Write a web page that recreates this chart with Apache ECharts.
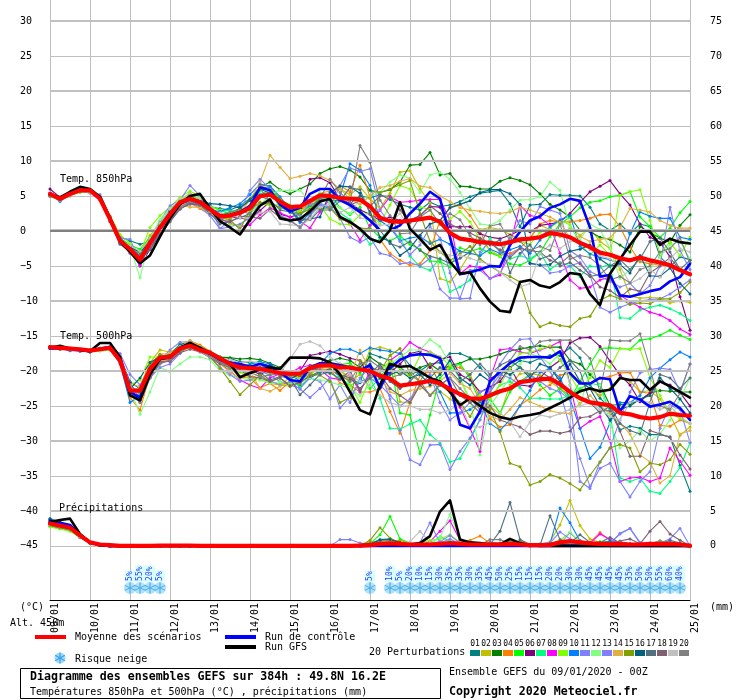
<!DOCTYPE html>
<html><head><meta charset="utf-8">
<style>html,body{margin:0;padding:0;background:#fff}#c{width:740px;height:700px}</style>
<script src="https://cdn.jsdelivr.net/npm/echarts@6/dist/echarts.min.js"></script>
</head><body><div id="c"></div>
<script>
const dayLabels=['09/01','10/01','11/01','12/01','13/01','14/01','15/01','16/01','17/01','18/01','19/01','20/01','21/01','22/01','23/01','24/01','25/01'];
const tempTicks=[30,25,20,15,10,5,0,-5,-10,-15,-20,-25,-30,-35,-40,-45];
const mmTicks=[75,70,65,60,55,50,45,40,35,30,25,20,15,10,5,0];
const memberNames=['01','02','03','04','05','06','07','08','09','10','11','12','13','14','15','16','17','18','19','20'];
const memberColors=['#008080','#c0c000','#008000','#ff8000','#00ff00','#800080','#00ff80','#ff00ff','#80ff00','#0080ff','#8080ff','#80ff80','#8080ff','#e0b040','#80a000','#006080','#507080','#806070','#c0c0c0','#808080'];

const mean850=[5.3,4.6,5.3,5.8,5.8,4.6,1.7,-1.4,-2.6,-4.1,-1.7,0.5,2.4,4.1,4.6,4.1,3.1,2.1,2.2,2.6,3.3,5.0,5.2,4.2,3.4,3.5,4.3,5.1,5.0,4.7,4.6,4.5,3.5,1.9,1.4,1.3,1.5,1.7,1.9,1.3,-0.3,-1.1,-1.3,-1.6,-1.7,-1.9,-1.6,-1.2,-1.1,-0.9,-0.3,-0.5,-0.9,-1.7,-2.3,-3.1,-3.4,-3.9,-4.2,-3.8,-4.2,-4.5,-4.9,-5.6,-6.2];
const gfs850=[5.2,4.8,5.6,6.3,6.0,4.9,1.8,-1.5,-3.0,-4.6,-3.5,-0.8,1.8,3.8,5.0,5.3,3.2,1.4,0.5,-0.5,1.6,3.6,4.5,1.8,1.5,1.7,2.8,4.2,4.6,2.0,1.3,0.3,-1.1,-1.6,0.1,4.1,0.3,-1.1,-2.7,-2.0,-4.4,-6.1,-5.9,-8.2,-10.1,-11.4,-11.6,-7.3,-7.0,-7.8,-8.1,-7.3,-6.0,-6.2,-9.0,-10.6,-6.1,-4.0,-2.0,-0.1,-0.1,-2.0,-1.1,-1.6,-1.8];
const ctrl850=[5.4,4.5,5.3,5.8,5.8,4.7,1.8,-1.3,-2.7,-4.2,-1.8,0.4,2.3,4.0,4.6,4.2,3.2,2.2,2.3,2.7,3.6,6.2,5.8,3.8,2.8,3.3,5.3,6.0,6.0,4.4,3.7,2.7,1.5,0.1,0.1,0.8,2.5,3.9,5.6,4.6,-0.9,-6.2,-5.9,-5.5,-5.0,-5.1,-2.0,-0.1,1.5,2.1,3.3,3.8,4.6,4.3,0.5,-6.5,-6.3,-9.2,-9.4,-9.0,-8.6,-8.3,-7.2,-6.6,-4.7];
const t850_01=[5.1,4.3,5.2,5.9,5.7,4.5,1.9,-0.9,-1.4,-1.9,-1.5,0.8,2.6,3.9,4.4,4.2,3.4,3.2,3.0,3.6,4.6,6.3,6.1,4.4,2.7,2.4,3.6,4.5,4.4,4.3,3.9,5.0,4.7,5.2,4.5,3.8,3.4,3.0,4.1,3.5,3.7,4.2,4.9,5.4,5.6,5.8,3.9,0.6,3.7,3.8,5.2,5.1,5.1,5.0,3.4,1.0,0.1,1.0,-0.4,1.0,0.6,-3.7,-5.1,-3.7,-4.1];
const t850_02=[5.0,4.4,5.1,5.6,5.6,4.7,1.5,-1.5,-2.4,-3.3,-0.6,1.0,2.8,4.3,5.4,4.4,3.2,2.4,2.6,3.0,3.0,4.8,5.3,3.8,3.1,2.8,3.8,5.4,5.7,6.0,5.2,6.3,4.6,3.2,5.4,8.4,8.6,6.0,4.0,-6.8,-7.3,-5.5,-3.2,0.2,0.5,0.2,-0.5,-1.2,-1.0,0.8,0.2,-0.8,0.4,-0.6,0.3,-1.5,-2.5,-5.5,-9.3,-9.6,-9.5,-9.6,-10.3,-10.0,-10.2];
const t850_03=[5.2,4.7,5.3,5.7,5.9,4.8,1.6,-1.2,-2.3,-3.6,-1.9,0.4,2.3,3.8,4.4,3.8,2.7,2.4,2.6,3.2,4.4,6.2,7.0,5.9,5.3,6.0,6.7,8.2,8.9,9.2,8.7,7.7,5.8,5.5,5.9,7.0,9.4,9.5,11.2,8.0,8.2,6.4,6.3,6.0,6.0,7.1,7.6,7.2,6.6,5.3,3.8,3.0,2.0,0.1,-0.1,-0.9,-1.2,-2.0,-3.0,0.6,-0.2,-1.0,-1.6,0.8,2.3];
const t850_04=[5.1,4.5,5.2,5.8,5.7,4.4,1.5,-1.6,-3.2,-4.4,-2.2,0.1,2.0,3.6,4.0,3.2,2.3,1.8,2.0,2.8,3.4,6.5,6.4,4.6,3.2,3.0,3.9,4.8,4.6,6.5,5.6,9.4,4.8,-1.2,-3.2,-4.2,-4.9,-4.7,-2.8,1.5,3.4,3.8,2.2,0.0,-3.0,-3.5,-3.2,-2.5,-1.0,1.0,1.5,1.3,1.3,1.5,1.8,2.3,2.4,0.6,-2.3,-4.4,-4.7,-4.9,-5.0,-5.4,-6.0];
const t850_05=[5.0,4.6,5.4,5.9,5.7,4.9,2.0,-1.0,-2.0,-2.6,-0.9,1.2,3.0,4.4,5.0,4.6,3.6,3.0,2.4,3.1,3.4,5.8,6.1,4.5,3.7,2.3,3.3,4.9,5.2,3.3,2.3,3.4,0.4,-0.9,-1.4,-0.7,-1.9,-2.6,-4.3,-4.4,-5.1,-2.4,-2.9,-2.5,-3.1,-3.7,-4.7,-4.9,-4.2,-3.1,-0.8,1.0,2.0,3.3,4.1,4.3,4.9,5.1,5.6,2.0,0.6,-0.9,0.4,2.6,4.2];
const t850_06=[6.0,4.8,5.4,5.9,5.6,4.5,1.6,-1.6,-2.8,-5.0,-2.6,0.0,2.2,3.8,4.3,3.9,3.2,2.0,2.0,1.9,1.5,2.9,4.2,2.4,2.0,2.4,7.4,7.6,6.9,4.5,4.0,3.0,2.4,1.5,2.0,1.5,1.5,2.2,3.5,3.4,0.6,0.6,0.6,-0.4,-0.9,-1.1,-0.6,0.1,-0.1,0.8,1.0,1.3,2.5,4.1,5.6,6.4,7.2,5.3,3.7,1.0,-0.9,-1.6,-3.7,-9.4,-14.2];
const t850_07=[5.1,4.5,5.2,5.8,5.8,4.6,1.8,-1.3,-2.2,-3.8,-1.2,0.9,2.7,4.2,4.8,4.2,3.5,2.9,2.9,2.8,3.7,5.3,5.7,3.3,2.9,2.2,4.0,5.3,3.9,2.6,1.6,0.1,-1.9,-1.2,0.3,-1.0,-3.6,-5.1,-5.6,-3.9,-8.7,-8.0,-7.0,-3.5,-1.0,-3.0,-4.0,-3.5,-4.0,-3.0,-5.5,-4.5,-5.0,-6.5,-5.0,-5.2,-4.8,-12.4,-12.5,-11.3,-10.9,-10.6,-11.1,-11.8,-12.8];
const t850_08=[5.2,4.5,5.2,5.7,5.7,4.5,1.7,-1.8,-3.0,-4.9,-2.2,0.3,2.4,4.0,4.7,4.3,3.1,1.8,1.1,0.6,0.9,2.3,3.3,2.6,2.0,1.4,0.4,2.7,4.6,2.0,1.0,-1.3,0.8,3.0,4.9,4.1,4.2,4.4,4.5,4.5,1.5,-6.1,-5.0,-5.2,-6.8,-6.3,-2.0,3.7,2.2,1.9,0.8,-3.2,-7.0,-8.2,-8.0,-7.0,-6.6,-9.2,-10.1,-10.9,-11.6,-12.0,-12.8,-14.0,-14.8];
const t850_09=[5.0,4.3,5.1,5.5,5.5,4.7,2.2,-0.5,-1.8,-3.2,0.5,2.2,3.4,4.8,5.7,4.9,3.5,3.0,1.0,0.7,2.4,4.0,3.6,3.8,3.1,3.0,3.2,3.6,1.7,1.0,0.9,2.3,2.5,1.0,3.7,6.5,6.0,3.5,3.0,0.9,1.7,2.8,1.3,-1.3,-2.7,-3.6,-0.8,-1.5,-1.9,-0.2,0.4,1.5,0.9,-1.8,-3.4,-2.0,-3.5,5.1,5.6,5.9,1.5,-3.2,-1.6,-3.5,-0.9];
const t850_10=[5.3,4.2,5.2,5.8,5.7,4.6,1.9,-1.0,-2.4,-3.4,-1.1,1.0,2.9,4.0,4.3,3.6,2.9,2.8,3.3,3.9,5.2,6.7,6.4,4.9,3.0,1.2,2.5,3.7,3.2,5.0,9.6,8.7,6.5,1.5,0.5,-1.4,-1.0,-0.8,-1.8,-1.2,-1.9,-2.9,-3.2,-3.5,-2.6,-3.2,-2.7,-2.2,-3.2,-1.3,0.6,1.6,2.2,-2.2,-3.3,-3.8,-4.1,-4.7,-0.4,2.7,2.1,1.8,1.8,-0.9,-1.2];
const t850_11=[5.0,4.4,5.0,5.7,5.4,5.2,2.1,-1.0,-1.2,-4.3,-1.3,1.5,3.6,4.4,6.5,5.0,3.6,0.3,1.6,2.8,5.8,7.4,6.0,3.7,2.6,2.3,3.8,4.0,3.3,6.5,9.0,8.5,8.9,3.0,1.0,-1.5,-3.4,-2.0,0.6,-1.0,-6.0,-9.7,-9.6,-3.0,-1.5,-3.0,-1.0,1.5,1.0,3.5,3.0,2.5,-2.8,-3.8,-5.8,-6.5,-7.2,-8.0,-7.5,-9.0,-7.8,-5.0,3.4,-2.8,-5.5];
const t850_12=[5.2,4.7,5.4,5.6,5.5,4.5,1.4,-1.4,-2.2,-6.7,-1.0,1.6,3.2,4.5,5.2,4.7,3.3,2.2,2.6,2.4,3.0,3.7,5.2,5.8,5.8,5.8,4.2,5.5,4.0,3.3,2.5,4.5,5.0,5.5,7.0,8.0,7.5,5.5,8.0,8.4,7.4,5.5,3.2,1.0,0.8,1.5,3.0,4.4,4.5,4.9,7.0,5.8,0.6,-1.3,1.0,0.2,-2.5,-6.8,-5.5,-4.0,-5.5,-3.7,-2.0,-1.5,-4.0];
const t850_13=[5.4,4.8,5.3,5.9,5.9,4.6,1.6,-1.2,-3.2,-4.2,-2.6,-0.2,1.7,3.4,4.1,3.4,2.2,0.3,0.6,1.0,1.9,4.0,3.9,2.2,1.6,0.4,2.2,3.7,3.5,1.8,-0.9,-1.6,-0.9,-3.2,-3.5,-4.7,-4.5,-5.0,-3.9,-8.3,-9.6,-9.6,-5.6,-5.6,-6.8,-6.0,-3.5,-2.5,-4.7,-4.8,-6.0,-5.8,-5.0,-4.5,-6.3,-10.9,-11.6,-10.9,-10.4,-10.0,-9.8,-9.7,-9.0,-8.0,-7.0];
const t850_14=[5.0,4.4,5.0,5.6,5.6,4.6,1.4,-1.5,-2.7,-3.9,-2.0,0.2,2.1,3.7,3.4,3.4,2.6,2.0,1.8,2.6,4.4,7.0,10.8,9.1,7.5,7.8,8.2,7.9,7.2,6.0,4.6,3.8,5.0,6.2,6.5,7.1,7.5,6.4,6.2,5.0,4.2,3.3,3.0,2.8,2.6,2.5,2.7,3.4,3.0,2.5,2.0,1.2,-1.0,-0.8,-1.5,-1.2,-1.0,0.5,3.2,3.0,2.7,1.5,0.8,0.4,0.4];
const t850_15=[5.1,4.6,5.4,5.7,5.8,4.7,1.8,-1.2,-2.4,-3.0,-1.4,0.9,2.5,4.0,5.2,4.0,2.9,1.9,1.6,0.2,3.0,4.1,3.9,3.4,2.9,2.5,3.1,3.2,3.3,1.7,1.2,0.4,0.3,5.5,6.0,6.6,7.2,2.5,-1.5,-3.0,-4.2,-3.3,-2.2,-4.0,-5.0,-5.9,-6.5,-7.3,-11.7,-13.7,-13.1,-13.5,-13.7,-12.5,-12.2,-9.9,-9.2,-9.7,-10.5,-10.3,-10.4,-9.7,-9.7,-8.8,-7.3];
const t850_16=[5.2,4.4,5.3,5.7,5.7,4.8,1.7,-1.7,-2.3,-3.0,-1.6,0.6,2.8,3.9,4.6,4.4,3.9,3.8,3.6,3.3,4.4,6.0,5.4,3.9,3.0,1.5,1.7,2.0,5.5,6.4,6.3,5.4,2.7,-0.9,-1.5,-3.5,-2.5,-0.6,1.0,1.5,3.3,3.8,4.3,5.5,5.9,5.9,5.3,3.8,-4.6,-4.9,-4.8,-3.6,-2.9,-2.6,-2.0,-4.0,-5.0,-4.8,-6.0,-3.5,-6.4,-6.5,-5.3,-7.5,-9.0];
const t850_17=[5.0,4.5,5.1,5.6,5.8,4.7,1.3,-1.9,-2.9,-4.0,-2.7,-0.6,1.3,3.1,4.0,3.7,2.5,1.0,1.4,1.9,2.5,5.0,4.4,3.0,2.7,1.8,1.6,3.0,3.0,4.3,6.2,5.9,2.5,0.1,-1.8,-2.3,-1.5,-2.8,-3.6,-4.0,-4.6,-3.9,-3.0,-1.1,-2.0,-1.3,-6.0,-3.2,-2.0,-4.0,-3.5,-5.0,-4.5,-5.6,-6.5,-6.2,-5.0,-4.1,-5.5,-4.0,-1.5,-1.0,-3.0,-5.5,-4.2];
const t850_18=[5.1,4.7,5.5,5.8,5.6,4.5,1.4,-1.1,-2.5,-3.5,-2.4,-0.4,1.5,3.2,3.8,3.7,2.8,1.6,1.3,2.1,2.0,1.8,3.1,1.9,1.6,1.6,3.1,4.6,5.0,4.6,3.7,4.3,3.5,5.0,5.0,3.0,1.2,2.2,3.6,2.5,1.0,0.3,-0.3,-1.0,-1.8,-2.7,-3.8,-2.5,-2.8,-3.0,-4.2,-4.7,-3.5,-4.7,-6.3,-8.0,-8.5,-9.5,-8.3,-8.6,-6.0,-5.0,-3.8,-5.6,-6.2];
const t850_19=[5.2,4.4,5.1,5.7,5.6,4.5,1.5,-1.3,-2.1,-2.9,-1.1,1.1,3.1,4.6,5.3,4.5,2.8,2.6,2.2,1.9,1.8,2.6,2.8,1.0,0.9,0.7,1.7,3.4,3.9,2.6,3.4,1.9,1.5,0.8,1.0,2.5,0.5,-1.5,-2.5,-3.0,-3.5,-3.5,-3.9,-4.4,-4.8,-5.9,-7.0,-8.0,-7.5,-3.2,-2.0,-2.5,-1.5,-1.5,-2.7,-3.5,-4.0,-5.0,-7.5,-6.8,-5.5,-6.6,-4.0,-2.5,-3.0];
const t850_20=[5.0,4.5,5.2,5.7,5.8,4.7,2.0,-0.9,-2.6,-3.7,-1.8,-0.1,2.5,3.4,4.2,3.9,3.0,1.9,2.7,3.0,2.4,6.0,4.3,2.1,1.4,0.6,2.2,4.6,7.4,5.5,4.0,12.2,9.8,4.4,2.2,-0.4,-0.3,2.0,3.0,1.0,2.5,1.6,-0.7,-2.0,0.7,1.0,-1.4,-1.5,-2.8,-2.2,-2.8,1.0,-4.0,-3.5,-3.8,-5.0,-7.0,-6.5,-7.4,-5.5,-5.0,-3.0,-2.5,-1.0,-4.5];

const mean500=[-16.6,-16.7,-16.8,-16.9,-17.1,-16.9,-16.7,-18.5,-22.8,-22.8,-19.7,-18.1,-18.0,-16.8,-16.4,-17.0,-17.4,-18.2,-19.0,-19.5,-19.6,-19.7,-20.0,-20.3,-20.4,-20.4,-19.6,-19.2,-19.2,-19.5,-19.5,-19.8,-20.0,-20.7,-21.1,-22.1,-21.9,-21.7,-21.4,-21.8,-22.6,-23.3,-23.9,-24.0,-23.5,-22.9,-22.5,-21.6,-21.4,-21.2,-21.1,-21.9,-23.0,-23.9,-24.5,-24.7,-24.9,-26.0,-26.2,-26.6,-26.8,-26.6,-26.1,-26.3,-26.4];
const gfs500=[-16.7,-16.4,-16.8,-17.0,-17.2,-16.0,-16.0,-18.0,-23.5,-24.2,-20.5,-18.3,-18.0,-16.7,-16.0,-16.7,-17.5,-18.3,-19.0,-20.9,-20.3,-19.8,-19.5,-19.7,-18.1,-18.1,-18.1,-18.2,-18.8,-20.5,-23.0,-25.6,-26.2,-22.0,-19.0,-19.4,-19.3,-20.1,-21.0,-21.5,-23.0,-24.9,-23.9,-25.0,-26.0,-26.6,-26.9,-26.5,-26.3,-26.0,-25.3,-24.6,-23.8,-22.9,-22.5,-22.9,-22.7,-21.0,-21.3,-21.3,-22.7,-21.5,-22.2,-23.0,-23.8];
const ctrl500=[-16.8,-16.8,-16.8,-17.0,-17.2,-16.8,-16.6,-18.6,-23.0,-23.8,-20.0,-18.3,-18.1,-16.7,-16.2,-16.9,-17.5,-18.4,-18.8,-19.0,-19.4,-19.0,-19.4,-20.2,-21.3,-21.5,-19.5,-18.9,-18.9,-19.2,-19.6,-19.9,-19.2,-22.5,-19.6,-18.4,-17.8,-17.6,-17.7,-18.2,-22.0,-27.7,-28.2,-25.8,-21.5,-20.1,-18.9,-18.1,-18.0,-18.0,-18.1,-17.2,-20.3,-21.8,-21.8,-21.0,-21.2,-25.8,-23.6,-24.1,-25.1,-24.8,-24.4,-25.3,-27.0];
const t500_01=[-16.6,-16.8,-17.0,-17.0,-17.2,-16.8,-16.6,-18.0,-21.5,-22.6,-19.9,-18.3,-18.0,-16.4,-16.0,-16.6,-17.3,-18.0,-18.2,-18.7,-18.8,-18.9,-19.3,-19.9,-21.0,-22.2,-21.0,-20.2,-19.7,-20.8,-21.3,-21.7,-17.5,-18.0,-18.5,-19.5,-20.5,-20.0,-19.0,-18.8,-17.5,-17.5,-18.1,-19.5,-21.0,-20.5,-19.5,-18.5,-18.8,-18.2,-17.8,-17.8,-16.7,-18.1,-22.0,-23.9,-25.3,-28.4,-27.9,-28.2,-29.1,-29.1,-29.4,-33.5,-37.2];
const t500_02=[-16.8,-16.9,-16.7,-17.1,-17.0,-17.0,-16.8,-18.4,-22.0,-22.2,-18.8,-17.0,-17.3,-16.7,-16.3,-16.8,-17.6,-18.6,-19.7,-19.3,-21.0,-20.5,-21.8,-22.0,-22.2,-21.0,-20.0,-19.4,-20.4,-19.8,-21.5,-20.5,-17.0,-16.6,-17.0,-24.4,-24.6,-22.0,-23.4,-22.9,-24.0,-25.0,-24.0,-23.5,-25.0,-26.2,-22.0,-20.4,-20.4,-20.6,-21.5,-22.5,-23.5,-22.8,-22.5,-23.5,-22.5,-21.0,-21.5,-23.0,-22.8,-24.0,-26.3,-29.2,-28.0];
const t500_03=[-16.7,-16.8,-16.9,-16.9,-17.1,-16.8,-16.5,-18.2,-22.5,-23.5,-20.0,-18.0,-17.6,-16.2,-15.9,-16.5,-17.2,-18.0,-18.1,-18.3,-18.2,-18.4,-18.9,-19.5,-20.6,-20.8,-20.0,-19.2,-18.5,-18.2,-18.5,-19.5,-18.0,-19.0,-19.5,-20.5,-20.0,-19.5,-19.0,-20.0,-19.2,-18.9,-18.3,-18.3,-18.0,-17.6,-17.1,-16.9,-16.6,-16.4,-16.6,-16.6,-18.5,-19.0,-20.5,-22.0,-24.9,-24.8,-24.7,-24.1,-23.2,-22.8,-22.9,-23.0,-23.0];
const t500_04=[-16.7,-16.6,-16.8,-17.2,-17.2,-16.9,-17.0,-18.8,-23.8,-25.6,-20.5,-18.5,-18.4,-16.8,-15.7,-16.3,-17.2,-18.3,-19.5,-20.9,-21.0,-22.4,-21.8,-22.8,-21.5,-21.8,-20.5,-19.5,-19.6,-21.8,-22.0,-23.0,-23.0,-22.5,-25.8,-28.9,-24.5,-20.6,-20.1,-20.3,-19.3,-19.5,-20.5,-23.9,-26.8,-28.0,-27.7,-24.9,-23.9,-22.7,-22.0,-20.6,-20.3,-21.5,-21.8,-21.0,-20.8,-20.3,-20.2,-23.0,-23.2,-27.8,-27.9,-27.0,-27.5];
const t500_05=[-16.6,-16.8,-16.8,-17.0,-17.3,-17.0,-16.7,-18.3,-22.4,-23.2,-19.5,-17.8,-18.3,-16.6,-15.9,-16.6,-17.5,-18.0,-19.0,-19.4,-19.0,-18.6,-19.8,-20.4,-20.8,-20.3,-19.2,-19.0,-18.8,-19.1,-18.9,-20.3,-22.5,-21.0,-18.7,-26.0,-26.3,-31.8,-26.3,-21.0,-19.6,-19.0,-21.0,-24.5,-24.0,-26.0,-23.0,-21.5,-20.5,-22.0,-23.5,-22.5,-24.0,-21.5,-19.0,-16.8,-16.7,-16.8,-16.9,-15.6,-15.4,-14.9,-14.2,-14.9,-15.5];
const t500_06=[-16.5,-16.7,-17.0,-17.1,-17.0,-16.9,-16.8,-18.0,-21.8,-23.8,-20.0,-18.2,-18.2,-17.0,-16.4,-17.1,-17.8,-18.6,-19.0,-19.2,-19.8,-20.5,-19.8,-20.6,-20.2,-20.0,-17.8,-17.5,-17.2,-17.6,-18.2,-18.5,-21.0,-19.5,-20.3,-19.0,-17.5,-17.2,-19.5,-18.3,-18.0,-20.5,-21.3,-23.0,-22.3,-21.5,-19.5,-22.0,-22.2,-21.0,-19.5,-18.5,-16.0,-15.3,-15.2,-16.5,-18.6,-20.6,-22.0,-24.4,-23.1,-21.5,-22.0,-23.1,-25.0];
const t500_07=[-16.7,-16.7,-16.8,-17.0,-17.1,-16.8,-16.7,-18.6,-22.6,-22.6,-19.4,-18.0,-17.8,-16.5,-16.2,-16.8,-17.5,-18.5,-19.5,-19.7,-19.3,-19.7,-20.4,-20.5,-21.0,-22.3,-20.8,-20.0,-20.3,-21.0,-22.0,-21.5,-21.0,-23.9,-28.2,-28.3,-27.6,-27.0,-29.1,-30.3,-33.0,-32.5,-29.9,-26.9,-24.0,-22.0,-21.5,-22.4,-23.9,-23.9,-24.0,-24.0,-23.5,-22.5,-21.8,-22.0,-26.0,-35.3,-35.8,-35.3,-37.2,-37.5,-35.8,-33.8,-30.3];
const t500_08=[-16.7,-16.8,-17.0,-17.2,-17.2,-16.9,-16.6,-18.4,-23.2,-24.2,-20.6,-18.8,-18.6,-17.4,-16.3,-16.8,-17.8,-18.9,-20.0,-21.3,-22.0,-22.5,-21.0,-20.4,-20.3,-19.5,-19.2,-19.8,-21.0,-21.2,-20.5,-23.0,-20.0,-22.0,-18.5,-17.5,-15.9,-16.8,-17.3,-18.0,-22.0,-25.2,-28.2,-31.5,-21.1,-17.0,-16.8,-17.3,-17.5,-17.0,-16.5,-15.8,-22.0,-28.2,-27.2,-26.5,-30.0,-35.8,-35.3,-35.2,-35.8,-35.3,-31.0,-32.9,-34.9];
const t500_09=[-16.6,-16.9,-16.9,-17.0,-17.2,-16.7,-16.6,-18.2,-22.0,-21.3,-18.0,-18.0,-18.4,-17.2,-16.3,-16.9,-17.5,-18.8,-19.8,-20.2,-21.0,-21.3,-21.6,-21.8,-22.0,-20.5,-20.8,-19.0,-19.6,-19.5,-22.0,-24.5,-21.0,-20.0,-18.6,-19.7,-20.8,-17.8,-17.3,-18.0,-19.2,-21.0,-24.5,-23.5,-24.0,-22.0,-19.6,-17.5,-17.3,-16.9,-16.4,-18.5,-20.6,-23.0,-21.0,-18.5,-19.5,-16.8,-16.9,-16.8,-21.0,-23.5,-26.0,-26.8,-27.5];
const t500_10=[-16.8,-16.8,-17.1,-17.1,-17.0,-16.8,-16.7,-19.0,-24.5,-23.5,-19.5,-17.8,-18.2,-16.4,-15.9,-16.6,-17.3,-18.5,-19.2,-19.6,-19.0,-18.7,-19.0,-19.9,-20.5,-21.4,-20.2,-19.0,-17.5,-16.9,-16.9,-17.5,-16.7,-17.0,-17.2,-17.5,-19.2,-20.5,-20.8,-23.0,-26.0,-26.0,-25.5,-24.5,-27.5,-28.5,-27.0,-25.0,-22.8,-20.2,-19.7,-21.0,-24.0,-28.2,-32.5,-30.9,-27.4,-24.5,-24.5,-23.5,-21.0,-19.6,-18.4,-17.3,-18.0];
const t500_11=[-16.6,-16.6,-17.0,-16.9,-17.2,-17.0,-16.8,-17.5,-20.5,-22.0,-19.6,-18.5,-17.0,-15.9,-15.8,-16.6,-17.4,-18.5,-19.2,-19.9,-20.3,-20.0,-20.6,-21.5,-22.0,-22.5,-21.0,-21.5,-24.0,-22.0,-24.5,-21.0,-19.5,-20.0,-24.0,-28.5,-32.7,-33.4,-30.6,-30.5,-34.1,-31.5,-29.6,-27.0,-23.0,-19.0,-17.0,-15.5,-15.4,-18.0,-20.0,-23.0,-28.0,-32.5,-36.5,-33.9,-33.2,-35.8,-38.0,-35.8,-34.4,-28.2,-24.9,-25.5,-30.2];
const t500_12=[-16.7,-16.8,-16.9,-17.0,-17.1,-17.2,-17.0,-18.6,-22.5,-26.2,-23.0,-19.5,-20.1,-19.0,-18.0,-18.0,-18.4,-20.0,-20.6,-21.0,-21.3,-21.2,-21.8,-21.5,-21.8,-21.3,-21.0,-21.3,-21.6,-22.0,-22.5,-23.5,-22.0,-20.0,-19.0,-18.0,-17.0,-17.0,-15.5,-16.5,-19.0,-21.0,-24.0,-32.0,-25.0,-23.0,-21.0,-19.0,-17.5,-18.0,-19.0,-17.5,-22.0,-25.0,-20.0,-22.0,-27.5,-31.0,-30.0,-28.5,-30.0,-29.0,-27.0,-24.0,-21.0];
const t500_13=[-16.6,-16.7,-17.0,-17.1,-17.2,-16.8,-16.5,-17.6,-22.0,-23.2,-21.0,-19.5,-19.0,-17.5,-16.2,-17.0,-18.0,-19.5,-20.5,-21.5,-21.3,-20.8,-21.4,-22.0,-21.5,-22.6,-23.8,-22.5,-21.0,-25.3,-23.7,-21.5,-21.0,-22.0,-23.5,-25.0,-24.0,-22.0,-20.5,-24.5,-27.0,-26.0,-24.5,-23.0,-22.5,-20.5,-21.0,-22.0,-20.5,-21.5,-22.5,-23.0,-24.1,-35.8,-36.8,-33.0,-31.0,-27.0,-23.0,-20.3,-19.8,-19.6,-19.8,-23.0,-19.0];
const t500_14=[-16.7,-16.8,-16.9,-17.1,-17.2,-16.9,-16.9,-18.8,-23.0,-22.5,-19.0,-17.6,-17.5,-16.6,-15.6,-16.5,-17.6,-19.0,-20.2,-21.0,-20.0,-22.5,-22.9,-22.2,-20.8,-21.0,-20.3,-19.6,-20.3,-20.0,-20.8,-17.0,-20.0,-21.0,-23.0,-23.5,-22.8,-22.5,-22.2,-21.5,-20.3,-21.8,-22.5,-24.8,-26.5,-27.0,-25.5,-23.8,-24.4,-25.0,-25.7,-26.0,-26.1,-24.6,-23.5,-25.0,-26.0,-27.5,-29.0,-32.0,-33.0,-36.0,-35.0,-29.0,-28.5];
const t500_15=[-16.6,-16.7,-16.8,-17.0,-17.1,-16.8,-16.7,-18.0,-22.4,-23.0,-19.2,-17.6,-18.2,-17.2,-16.6,-17.2,-18.0,-19.6,-21.5,-23.4,-22.0,-20.6,-21.5,-21.0,-22.0,-21.8,-20.5,-20.6,-21.5,-24.5,-23.8,-18.5,-19.5,-20.0,-17.8,-16.8,-20.5,-21.5,-19.0,-22.0,-23.0,-24.5,-26.5,-24.0,-25.5,-28.7,-33.2,-33.7,-36.3,-35.8,-34.8,-35.3,-36.1,-37.0,-34.9,-33.0,-31.0,-30.5,-31.0,-34.4,-33.2,-33.4,-32.7,-30.5,-31.9];
const t500_16=[-16.7,-16.9,-16.9,-17.0,-17.3,-16.9,-16.8,-18.3,-22.6,-21.0,-18.8,-18.0,-17.8,-16.6,-16.1,-16.7,-17.7,-18.4,-18.7,-19.2,-19.3,-19.5,-19.2,-20.1,-21.2,-20.4,-19.6,-20.0,-20.3,-19.0,-19.4,-20.0,-19.0,-21.0,-20.5,-20.0,-21.0,-20.5,-22.0,-20.5,-18.5,-21.0,-22.0,-20.5,-21.5,-20.0,-20.5,-19.5,-21.0,-19.0,-19.5,-21.5,-19.0,-21.5,-22.5,-25.0,-27.0,-25.5,-25.0,-24.0,-23.5,-21.0,-22.5,-24.0,-26.0];
const t500_17=[-16.6,-16.8,-17.0,-17.0,-17.1,-16.9,-16.7,-18.5,-23.4,-24.2,-20.8,-18.8,-18.5,-17.0,-16.5,-17.0,-17.8,-18.8,-19.3,-19.4,-19.8,-20.2,-21.3,-20.8,-21.0,-23.4,-22.0,-20.5,-20.2,-21.2,-20.0,-22.8,-20.5,-19.0,-21.5,-22.5,-21.5,-20.0,-21.0,-19.5,-20.0,-21.5,-20.5,-19.0,-20.5,-19.2,-18.5,-19.5,-20.5,-20.0,-21.0,-19.5,-18.5,-20.0,-24.5,-26.0,-25.0,-27.5,-28.5,-29.0,-24.5,-20.5,-21.0,-22.5,-21.0];
const t500_18=[-16.8,-16.7,-17.0,-17.0,-17.2,-16.9,-16.6,-18.4,-22.8,-24.5,-20.9,-18.7,-18.6,-17.4,-16.9,-17.3,-18.1,-19.0,-19.5,-19.9,-20.8,-21.0,-21.5,-21.0,-22.2,-21.6,-20.8,-20.0,-19.8,-20.5,-21.0,-22.5,-21.0,-20.5,-22.5,-23.5,-24.5,-22.0,-23.5,-22.0,-21.0,-23.5,-24.5,-26.0,-25.0,-27.0,-27.5,-28.0,-29.1,-28.6,-28.6,-28.9,-28.6,-26.7,-26.5,-25.7,-25.7,-28.6,-32.2,-32.2,-28.5,-29.0,-29.5,-32.0,-34.0];
const t500_19=[-16.7,-16.7,-16.9,-17.0,-17.0,-16.7,-16.6,-18.2,-22.2,-23.6,-20.2,-18.4,-18.0,-16.5,-16.4,-17.2,-18.0,-18.2,-18.4,-18.9,-18.6,-18.9,-19.6,-20.3,-18.3,-16.2,-15.8,-16.4,-18.0,-19.0,-20.5,-21.5,-22.0,-23.5,-24.5,-25.0,-25.0,-25.5,-25.5,-26.0,-25.6,-24.5,-28.0,-28.0,-27.3,-26.0,-27.3,-29.4,-27.3,-26.3,-26.6,-26.1,-25.5,-25.0,-24.5,-25.5,-26.5,-27.0,-24.5,-24.2,-24.5,-25.5,-25.0,-26.5,-27.5];
const t500_20=[-16.6,-16.9,-16.8,-17.1,-17.2,-16.8,-16.6,-18.6,-23.3,-24.5,-21.0,-19.0,-18.4,-17.0,-16.6,-17.2,-17.9,-18.6,-19.6,-20.0,-20.2,-20.8,-20.6,-20.4,-20.8,-20.0,-20.0,-19.5,-18.8,-20.6,-21.5,-19.0,-18.5,-19.5,-21.0,-20.5,-20.0,-21.5,-23.5,-22.0,-21.0,-22.5,-24.0,-25.5,-23.0,-21.0,-18.5,-16.5,-17.0,-15.8,-15.6,-15.6,-15.6,-16.8,-18.2,-23.0,-15.6,-15.7,-15.7,-14.7,-19.6,-25.0,-25.5,-23.2,-19.0];

const meanPr=[3.2,2.9,2.6,1.5,0.5,0.2,0.1,0,0,0,0,0.05,0.05,0.05,0.05,0,0,0,0,0,0,0,0,0,0,0,0,0,0,0,0,0.05,0.1,0.3,0.35,0.3,0.2,0.2,0.2,0.3,0.4,0.3,0.2,0.2,0.2,0.2,0.3,0.2,0.1,0.1,0.15,0.5,0.7,0.5,0.35,0.3,0.25,0.25,0.2,0.2,0.3,0.25,0.3,0.2,0.05];
const ctrlPr=[3.6,3.3,3.0,1.6,0.5,0.1,0,0,0,0,0,0,0,0,0,0,0,0,0,0,0,0,0,0,0,0,0,0,0,0,0,0,0,0,0,0,0,0,0,0,0,0,0,0,0,0,0,0,0,0,0,0,0,0,0,0,0,0,0,0,0,0,0,0,0];
const gfsPr=[3.4,3.7,3.9,1.7,0.5,0.1,0,0,0,0,0,0,0,0,0,0,0,0,0,0,0,0,0,0,0,0,0,0,0,0.05,0,0.1,0.2,0.3,0.2,0.2,0.2,0.4,1.4,4.9,6.5,0.9,0.5,0.4,0.2,0.2,1.0,0.4,0.1,0,0,0,0,0,0,0,0,0,0,0,0,0,0,0,0];
const pr01=[3.9,3.4,2.9,1.5,0.5,0.1,0,0,0,0,0,0,0,0,0,0,0,0,0,0,0,0,0,0,0,0,0,0,0,0,0,0,0.3,0.9,1.0,0.4,0.2,0.1,0.1,0.2,0.3,0.2,0.1,0.2,0.1,0.1,0.2,0.1,0,0.2,0.1,0.2,0.1,0.3,0.2,0.1,0.2,0.3,0.2,0.1,0.1,0.2,0.1,0.1,0];
const pr02=[3.0,2.7,2.3,1.3,0.4,0.1,0,0,0,0,0,0,0,0,0,0,0,0,0,0,0,0,0,0,0,0,0,0,0,0,0,0,0.1,0.3,0.2,0.1,0.1,0.3,0.6,0.3,0.2,0.1,0.2,0.3,0.2,0.1,0.4,0.3,0.1,0.2,0.6,3.0,6.5,2.9,1.0,0.5,0.3,0.2,0.1,0.2,0.1,0.2,0.3,0.1,0];
const pr03=[3.6,3.0,2.6,1.5,0.5,0.2,0,0,0,0,0,0,0,0,0,0,0,0,0,0,0,0,0,0,0,0,0,0,0,0,0,0.1,0.2,0.4,0.6,0.3,0.1,0.1,0.2,0.2,0.4,0.2,0.1,0.2,0.2,0.3,0.5,0.4,0.2,0.1,0.1,0.2,0.3,0.2,0.1,0.2,0.4,0.3,0.2,0.2,0.3,0.6,0.4,0.2,0];
const pr04=[3.1,2.8,2.5,1.4,0.4,0.1,0,0,0,0,0,0,0,0,0,0,0,0,0,0,0,0,0,0,0,0,0,0,0,0,0,0.2,0.6,0.5,0.6,0.8,0.3,0.2,0.3,0.4,0.5,0.6,0.8,1.4,0.4,0.2,0.2,0.3,0.1,0.1,0.1,0.2,0.3,0.2,0.5,1.9,0.8,0.2,0.1,0.1,0.1,0.2,0.2,0.1,0];
const pr05=[2.8,2.5,2.2,1.2,0.4,0.1,0,0,0,0,0,0,0,0,0,0,0,0,0,0,0,0,0,0,0,0,0,0,0,0.1,0.1,0.2,0.3,1.6,4.2,1.0,0.4,0.2,0.1,0.4,0.5,0.3,0.2,0.1,0.1,0.3,0.2,0.2,0.2,0.1,0.1,0.3,0.4,0.3,0.2,0.6,0.3,0.2,0.1,0.1,0.2,0.4,0.2,0.1,0];
const pr06=[3.3,3.0,2.7,1.6,0.5,0.1,0,0,0,0,0,0,0,0,0,0,0,0,0,0,0,0,0,0,0,0,0,0,0,0,0,0,0.1,0.2,0.3,0.2,0.2,0.1,0.2,0.3,0.4,0.2,0.1,0.2,0.1,0.2,0.6,0.5,0.2,0.1,0.1,0.2,0.4,0.6,0.3,0.4,0.3,0.6,0.3,0.1,0.2,0.3,0.2,0.1,0];
const pr07=[3.1,2.6,2.3,1.3,0.5,0.1,0,0,0,0,0,0,0,0,0,0,0,0,0,0,0,0,0,0,0,0,0,0,0,0,0,0,0.2,0.3,0.5,0.2,0.1,0.2,0.3,1.3,0.7,0.3,0.1,0.1,0.2,0.1,0.2,0.3,0.1,0.1,0.2,0.3,0.5,0.2,0.2,0.3,0.7,0.2,0.2,0.1,0.2,0.2,0.1,0.1,0];
const pr08=[3.4,2.9,2.5,1.4,0.5,0.2,0,0,0,0,0,0,0,0,0,0,0,0,0,0,0,0,0,0,0,0,0,0,0,0,0,0.1,0.1,0.2,0.2,0.3,0.1,0.1,0.6,2.1,3.6,0.8,0.2,0.2,0.1,0.1,0.2,0.1,0.1,0.2,0.2,0.3,0.5,0.3,0.4,1.7,0.9,0.3,0.3,0.2,0.4,0.3,0.2,0.1,0];
const pr09=[2.7,2.4,2.1,1.2,0.4,0.1,0,0,0,0,0,0,0,0,0,0,0,0,0,0,0,0,0,0,0,0,0,0,0,0,0,0,0.1,0.4,0.3,0.4,0.2,0.3,0.8,1.0,1.6,0.5,0.3,0.2,0.2,0.2,0.3,0.2,0.1,0.1,0.3,0.8,1.9,0.5,0.3,0.6,0.5,0.2,0.2,0.1,0.2,0.6,0.3,0.1,0];
const pr10=[3.7,3.2,2.8,1.6,0.5,0.1,0,0,0,0,0,0,0,0,0,0,0,0,0,0,0,0,0,0,0,0,0,0,0,0,0,0,0.1,0.2,0.4,0.2,0.1,0.2,0.2,0.3,0.3,0.2,0.1,0.2,0.2,0.3,0.3,0.2,0.1,0.1,0.3,5.4,3.3,0.7,0.3,0.4,0.6,0.3,0.2,0.1,0.1,0.2,0.2,0.1,0];
const pr11=[3.2,2.9,2.4,1.4,0.4,0.1,0,0,0,0,0,0,0,0,0,0,0,0,0,0,0,0,0,0,0,0,0,0,0,0.9,0.9,0.4,0.2,0.2,0.3,0.3,0.2,0.5,3.3,0.4,1.0,0.3,0.2,0.1,0.2,0.2,0.4,0.2,0.1,0.3,0.5,0.3,1.9,0.6,0.3,0.2,0.3,1.8,2.5,0.4,0.2,0.4,1.0,2.5,0];
const pr12=[3.0,2.7,2.4,1.3,0.5,0.1,0,0,0,0,0,0,0,0,0,0,0,0,0,0,0,0,0,0,0,0,0,0,0,0,0,0,0.1,0.3,0.6,0.2,0.2,0.2,0.3,1.2,4.5,1.0,0.3,0.2,0.1,0.2,0.2,0.1,0.1,0.1,0.2,0.4,2.0,0.5,0.2,0.4,0.3,0.2,0.1,0.1,0.2,0.3,0.2,0.1,0];
const pr13=[3.5,3.1,2.7,1.5,0.5,0.2,0,0,0,0,0,0,0,0,0,0,0,0,0,0,0,0,0,0,0,0,0,0,0,0,0,0,0.1,0.2,0.2,0.2,0.1,0.2,0.4,0.6,1.5,0.4,0.2,0.2,0.1,0.2,0.3,0.1,0.1,0.2,0.4,2.0,1.0,0.4,0.2,0.3,0.4,1.7,2.5,0.5,0.2,0.3,0.6,0.3,0];
const pr14=[3.1,2.8,2.4,1.3,0.4,0.1,0,0,0,0,0,0.05,0,0,0,0,0,0,0,0,0,0,0,0,0,0,0,0,0,0,0,0.2,0.3,0.6,0.8,0.3,0.2,0.2,0.3,0.4,0.3,0.4,0.2,0.3,0.4,0.3,0.6,0.4,0.2,0.1,0.2,0.5,0.7,0.4,0.2,0.3,0.2,0.2,0.1,0.1,0.3,0.7,0.4,0.2,0];
const pr15=[3.3,3.0,2.5,1.4,0.5,0.1,0,0,0,0,0,0,0,0,0,0,0,0,0,0,0,0,0,0,0,0,0,0,0,0,0,0,0.8,2.6,1.1,0.5,0.2,0.2,0.3,0.2,0.3,0.2,0.3,0.2,0.1,0.2,0.5,0.7,0.2,0.1,0.2,0.3,0.3,0.2,0.1,0.2,0.2,0.1,0.1,0.2,0.3,0.7,0.2,0.1,0];
const pr16=[3.8,3.2,2.8,1.5,0.5,0.1,0,0,0,0,0,0,0,0,0,0,0,0,0,0,0,0,0,0,0,0,0,0,0,0,0,0.1,0.3,0.8,0.9,0.5,0.2,0.1,0.2,0.3,0.2,0.2,0.1,0.2,0.2,0.1,0.3,0.2,0.1,0.2,0.3,0.2,0.4,0.3,0.2,0.5,0.6,0.3,0.2,0.1,0.1,0.2,0.2,0.2,0];
const pr17=[3.2,2.8,2.5,1.4,0.4,0.1,0,0,0,0,0,0,0,0,0,0,0,0,0,0,0,0,0,0,0,0,0,0,0,0,0,0,0.2,0.3,0.3,0.3,0.2,0.1,0.2,0.2,0.3,0.2,0.2,0.3,0.2,2.1,6.2,0.9,0.2,0.1,4.3,0.9,0.4,1.6,0.5,0.5,1.2,0.4,0.2,0.2,0.3,0.2,0.8,0.4,0];
const pr18=[2.9,2.6,2.3,1.2,0.4,0.1,0,0,0,0,0,0,0,0,0,0,0,0,0,0,0,0,0,0,0,0,0,0,0,0,0,0,0.1,0.3,0.2,0.2,0.1,0.1,0.2,0.2,0.3,0.3,0.2,0.1,0.5,0.4,0.2,0.2,0.1,0.1,0.2,0.3,0.3,0.2,0.2,0.3,0.4,0.7,1.0,0.3,2.1,3.5,1.7,0.8,0];
const pr19=[3.0,2.7,2.4,1.3,0.5,0.1,0,0,0,0,0,0,0,0,0,0,0,0,0,0,0,0,0,0,0,0,0,0,0,0,0,0,0.1,0.2,0.2,0.2,0.6,2.1,0.5,0.2,0.3,0.2,0.1,0.2,0.2,0.2,0.2,0.1,0.1,0.1,0.2,0.3,0.3,0.2,0.1,0.2,0.3,0.2,0.1,0.1,0.2,0.5,0.3,0.2,0];
const pr20=[3.4,3.0,2.6,1.5,0.5,0.2,0,0,0,0,0,0,0,0,0,0,0,0,0,0,0,0,0,0,0,0,0,0,0,0,0,0,0.1,0.2,0.3,0.2,0.1,0.2,0.2,0.4,0.4,0.2,0.2,0.1,0.9,0.9,0.3,0.2,0.1,0.1,0.2,0.2,0.4,0.8,0.3,0.3,0.4,0.5,0.3,0.2,0.3,0.7,0.5,0.2,0];

const snowSlots=[8,9,10,11,32,34,35,36,37,38,39,40,41,42,43,44,45,46,47,48,49,50,51,52,53,54,55,56,57,58,59,60,61,62,63];
const snowPct=[5,55,20,5,5,10,5,20,10,15,30,35,35,30,35,45,50,25,15,15,15,20,20,30,30,45,45,45,45,35,50,50,55,60,40];
const majorLevels=[30,20,10,-10,-20,-30,-40];

const mono='"DejaVu Sans Mono"';
const flake='M11 1h2v22h-2zM3.8 6.1L21.2 16.1L20.2 17.9L2.8 7.9zM20.2 6.1L21.2 7.9L3.8 17.9L2.8 16.1z';
const categories=Array.from({length:65},(_,i)=>i%4===0?dayLabels[i/4]:String(i));
const t850=[t850_01,t850_02,t850_03,t850_04,t850_05,t850_06,t850_07,t850_08,t850_09,t850_10,t850_11,t850_12,t850_13,t850_14,t850_15,t850_16,t850_17,t850_18,t850_19,t850_20];
const t500=[t500_01,t500_02,t500_03,t500_04,t500_05,t500_06,t500_07,t500_08,t500_09,t500_10,t500_11,t500_12,t500_13,t500_14,t500_15,t500_16,t500_17,t500_18,t500_19,t500_20];
const prec=[pr01,pr02,pr03,pr04,pr05,pr06,pr07,pr08,pr09,pr10,pr11,pr12,pr13,pr14,pr15,pr16,pr17,pr18,pr19,pr20];

const series=[];
series.push({type:'line',data:[],silent:true,z:1,
  markLine:{silent:true,symbol:'none',animation:false,label:{show:false},
    data:majorLevels.map(v=>({yAxis:v,lineStyle:{color:'#c0c0c0',width:2,type:'solid'}}))
      .concat([{yAxis:0.15,lineStyle:{color:'#c0c0c0',width:2,type:'solid'}},{yAxis:0,lineStyle:{color:'#808080',width:2,type:'solid'}}])}});
function member(data,color,axis){
  return {type:'line',data,yAxisIndex:axis,z:3,symbol:'circle',symbolSize:3,showSymbol:true,showAllSymbol:true,
    lineStyle:{color,width:1.1},itemStyle:{color},silent:true,animation:false};
}
function bold(data,color,width,axis,z){
  return {type:'line',data,yAxisIndex:axis,z,symbol:'none',lineStyle:{color,width,cap:'round',join:'round'},silent:true,animation:false};
}
[[t850,ctrl850,gfs850,mean850,0],[t500,ctrl500,gfs500,mean500,0],[prec,ctrlPr,gfsPr,meanPr,1]].forEach(([ms,c,g,m,ax])=>{
  ms.forEach((d,k)=>series.push(member(d,memberColors[k],ax)));
  series.push(bold(c,'#0000ff',2.6,ax,4));
  series.push(bold(g,'#000000',2.6,ax,5));
  series.push(bold(m,'#ff0000',4.2,ax,6));
});
const snowY=-51;
series.push({type:'scatter',z:7,silent:true,symbol:'circle',symbolSize:12,itemStyle:{color:'#9adcf7'},
  data:snowSlots.map((s,k)=>[s,snowY,snowPct[k]]),
  label:{show:true,position:'top',distance:0,rotate:90,align:'left',verticalAlign:'middle',
    formatter:p=>p.data[2]+'%',color:'#0000ff',fontFamily:mono,fontSize:8,backgroundColor:'#ccffff',lineHeight:10,padding:[0,1,0,1]}});
series.push({type:'scatter',z:8,silent:true,symbol:'path://'+flake,symbolSize:11,itemStyle:{color:'#3d9fe6'},
  data:snowSlots.map(s=>[s,snowY])});

const txt=(x,y,text,f)=>({type:'text',x,y,z:20,style:{text,font:(f||'10px ')+mono,fill:'#000',verticalAlign:'middle',align:'left'}});
const flakeBar=(x1,y1,x2,y2)=>({type:'line',z:21,shape:{x1,y1,x2,y2},style:{stroke:'#3d9fe6',lineWidth:1.2}});
const g=[
 txt(60,179,'Temp. 850hPa'),txt(60,336,'Temp. 500hPa'),txt(59,508,'Précipitations'),
 txt(20,607,'(°C)'),txt(10,623,'Alt. 450m'),txt(710,607,'(mm)'),
 {type:'rect',z:20,shape:{x:35,y:635,width:31,height:4},style:{fill:'#ff0000'}},txt(75,637,'Moyenne des scénarios'),
 {type:'rect',z:20,shape:{x:225,y:635,width:31,height:4},style:{fill:'#0000ff'}},txt(265,637,'Run de contrôle'),
 {type:'rect',z:20,shape:{x:225,y:645,width:31,height:4},style:{fill:'#000'}},txt(265,647,'Run GFS'),
 {type:'circle',z:20,shape:{cx:60,cy:658,r:5.5},style:{fill:'#9adcf7'}},
 flakeBar(60,652.5,60,663.5),flakeBar(55.2,655.2,64.8,660.8),flakeBar(64.8,655.2,55.2,660.8),
 txt(75,659,'Risque neige'),
 txt(369,652,'20 Perturbations'),
 {type:'rect',z:20,shape:{x:20.5,y:668.5,width:420,height:30},style:{fill:'#fff',stroke:'#000',lineWidth:1}},
 txt(30,677,'Diagramme des ensembles GEFS sur 384h : 49.8N 16.2E','bold 11.6px '),
 txt(30,692,'Températures 850hPa et 500hPa (°C) , précipitations (mm)'),
 txt(449,672,'Ensemble GEFS du 09/01/2020 - 00Z'),
 txt(449,692,'Copyright 2020 Meteociel.fr','bold 11.6px ')
];
memberNames.forEach((n,k)=>{
  g.push({type:'rect',z:20,shape:{x:470+k*11,y:650,width:10,height:6},style:{fill:memberColors[k]}});
  g.push({type:'text',x:475+k*11,y:644,z:20,style:{text:n,font:'8px '+mono,fill:'#000',align:'center',verticalAlign:'middle'}});
});

const chart=echarts.init(document.getElementById('c'),null,{renderer:'canvas'});
chart.setOption({
 animation:false,backgroundColor:'#fff',
 grid:{left:50,top:0,width:640,height:600,containLabel:false},
 xAxis:{type:'category',data:categories,boundaryGap:false,
   axisLine:{show:true,onZero:false,lineStyle:{color:'#000',width:1}},axisTick:{show:false},
   axisLabel:{show:true,rotate:90,interval:(i)=>i%4===0,margin:3,align:'right',verticalAlign:'top',padding:[0,0,0,0],
     formatter:(v,i)=>i%4===0?v:'',color:'#000',fontFamily:mono,fontSize:10,hideOverlap:false,showMinLabel:true,showMaxLabel:true},
   splitLine:{show:true,interval:(i)=>i%4===0,lineStyle:{color:'#c0c0c0',width:1}}},
 yAxis:[
  {type:'value',min:-52.73,max:33,position:'left',
   axisLine:{show:false},axisTick:{show:false,customValues:tempTicks},
   axisLabel:{customValues:tempTicks,align:'left',margin:30,color:'#000',fontFamily:mono,fontSize:10,padding:[4,0,0,0],formatter:v=>String(v).replace('-','\u2212')},
   splitLine:{show:true,lineStyle:{color:'#c0c0c0',width:1}}},
  {type:'value',min:-7.73,max:78,position:'right',
   axisLine:{show:false},axisTick:{show:false,customValues:mmTicks},
   axisLabel:{customValues:mmTicks,align:'left',margin:20,color:'#000',fontFamily:mono,fontSize:10,padding:[4,0,0,0]},
   splitLine:{show:false}}
 ],
 series,graphic:{elements:g}
});
</script></body></html>
